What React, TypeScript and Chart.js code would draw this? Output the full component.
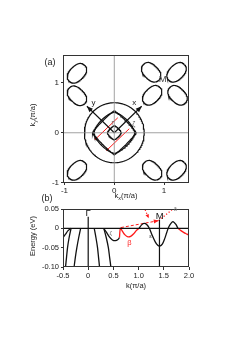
import React, { useEffect, useRef } from 'react';
import { Chart, registerables } from 'chart.js';
Chart.register(...registerables);

const FONT = '"Liberation Sans", Arial, sans-serif';

// ---------- Panel (a): Fermi surface ----------
const kxTicks = [-1, 0, 1];
const kyTicks = [-1, 0, 1];
// central contours: radius and superellipse exponent (2 = circle, ~1 = diamond)
const fsRadius = [0.6, 0.44, 0.41, 0.14];
const fsExponent = [2, 1.1, 1.45, 1.3];
// electron pockets around M
const pocketX = [-0.75, -0.75, -0.75, 0.74, 1.25, 0.76, 1.27, 0.76, 1.25];
const pocketY = [1.19, 0.74, -0.75, 1.21, 1.21, 0.75, 0.75, -0.75, -0.75];
const pocketAngle = [45, -45, 45, -45, 45, 45, -45, -45, 45];
const pocketMajor = 0.22;
const pocketMinor = 0.145;
// x / y axis arrows
const arrowEndX = [0.55, -0.55];
const arrowEndY = [0.53, 0.53];
// red nesting lines
const nestStartX = [-0.37, -0.14];
const nestStartY = [-0.12, -0.34];
const nestEndX = [0.07, 0.3];
const nestEndY = [0.3, 0.08];

// ---------- Panel (b): band structure ----------
const kTicks = [-0.5, 0, 0.5, 1.0, 1.5, 2.0];
const kTickLabels = ['-0.5', '0', '0.5', '1.0', '1.5', '2.0'];
const eTicks = [0.05, 0, -0.05, -0.1];
const eTickLabels = ['0.05', '0', '-0.05', '-0.10'];
const gammaK = 0;
const mK = 1.414;
const leftBandK = [-0.5, -0.45, -0.4, -0.34];
const leftBandE = [-0.024, -0.015, -0.006, 0];
const steepE = [0, -0.025, -0.05, -0.075, -0.1];
const innerLeftK = [-0.15, -0.19, -0.225, -0.255, -0.28];
const innerRightK = [0.12, 0.155, 0.185, 0.205, 0.225];
const outerLeftK = [-0.34, -0.38, -0.41, -0.43, -0.45];
const outerRightK = [0.31, 0.36, 0.4, 0.425, 0.45];
const zetaK = [0.31, 0.36, 0.42, 0.48, 0.54, 0.59, 0.62];
const zetaE = [0, -0.01, -0.022, -0.03, -0.032, -0.029, -0.024];
const betaK = [0.62, 0.64, 0.68, 0.73, 0.79, 0.85, 0.91, 0.96, 1.01];
const betaE = [-0.024, 0.0, -0.008, -0.017, -0.022, -0.02, -0.013, -0.005, 0.0];
const epsK = [1.01, 1.06, 1.11, 1.16, 1.21, 1.27, 1.33, 1.38, 1.42, 1.47, 1.52, 1.56, 1.6, 1.65, 1.69, 1.74, 1.78];
const epsE = [0, 0.009, 0.013, 0.01, 0.001, -0.018, -0.035, -0.044, -0.046, -0.041, -0.026, -0.01, 0.004, 0.014, 0.017, 0.01, 0];
const tailK = [1.78, 1.84, 1.9, 1.96, 2.0];
const tailE = [0, -0.006, -0.011, -0.015, -0.018];
const nest1K = [0.65, 1.4];
const nest1E = [0.002, 0.02];
const nest2K = [1.4, 1.67];
const nest2E = [0.02, 0.049];
const nest3K = [1.13, 1.2];
const nest3E = [0.048, 0.026];

const W = 249;
const H = 352;

const zip = (xs: number[], ys: number[]) => xs.map((x, i) => ({ x, y: ys[i] }));

function superellipse(cx: number, cy: number, a: number, b: number, n: number, angDeg: number) {
  const pts: { x: number; y: number }[] = [];
  const th = (angDeg * Math.PI) / 180;
  const N = 160;
  for (let i = 0; i <= N; i++) {
    const t = (i / N) * Math.PI * 2;
    const c = Math.cos(t);
    const s = Math.sin(t);
    const u = a * Math.sign(c) * Math.pow(Math.abs(c), 2 / n);
    const v = b * Math.sign(s) * Math.pow(Math.abs(s), 2 / n);
    pts.push({ x: cx + u * Math.cos(th) - v * Math.sin(th), y: cy + u * Math.sin(th) + v * Math.cos(th) });
  }
  return pts;
}

function line(data: any[], color: string, width: number, extra: any = {}) {
  return {
    data,
    showLine: true,
    borderColor: color,
    backgroundColor: color,
    borderWidth: width,
    pointRadius: 0,
    fill: false,
    tension: 0,
    ...extra,
  };
}

function arrowHead(ctx: CanvasRenderingContext2D, x0: number, y0: number, x1: number, y1: number, len: number, wid: number, color: string) {
  const a = Math.atan2(y1 - y0, x1 - x0);
  ctx.save();
  ctx.translate(x1, y1);
  ctx.rotate(a);
  ctx.beginPath();
  ctx.moveTo(0, 0);
  ctx.lineTo(-len, wid / 2);
  ctx.lineTo(-len, -wid / 2);
  ctx.closePath();
  ctx.fillStyle = color;
  ctx.fill();
  ctx.restore();
}

function frame(chart: any) {
  const { ctx, chartArea: c } = chart;
  ctx.save();
  ctx.strokeStyle = '#333';
  ctx.lineWidth = 1;
  ctx.strokeRect(Math.round(c.left) + 0.5, Math.round(c.top) + 0.5, Math.round(c.right - c.left) - 1, Math.round(c.bottom - c.top) - 1);
  ctx.restore();
}

function text(ctx: CanvasRenderingContext2D, s: string, x: number, y: number, size: number, color = '#111', align: CanvasTextAlign = 'center', style = '') {
  ctx.save();
  ctx.font = `${style} ${size}px ${FONT}`;
  ctx.fillStyle = color;
  ctx.textAlign = align;
  ctx.textBaseline = 'middle';
  ctx.fillText(s, x, y);
  ctx.restore();
}

// "k" + subscript + "(π/a)" centred at (x, y), optionally rotated
function kTitle(ctx: CanvasRenderingContext2D, sub: string, x: number, y: number, size: number, rot: number) {
  ctx.save();
  ctx.translate(x, y);
  ctx.rotate(rot);
  ctx.fillStyle = '#222';
  ctx.textBaseline = 'middle';
  ctx.textAlign = 'left';
  const big = `${size}px ${FONT}`;
  const small = `${size * 0.72}px ${FONT}`;
  ctx.font = big;
  const wk = ctx.measureText('k').width;
  const wr = ctx.measureText('(π/a)').width;
  ctx.font = small;
  const ws = sub ? ctx.measureText(sub).width : 0;
  let cx = -(wk + ws + wr) / 2;
  ctx.font = big;
  ctx.fillText('k', cx, 0);
  cx += wk;
  if (sub) {
    ctx.font = small;
    ctx.fillText(sub, cx, size * 0.3);
    cx += ws;
  }
  ctx.font = big;
  ctx.fillText('(π/a)', cx, 0);
  ctx.restore();
}

export default function App() {
  const refA = useRef<HTMLCanvasElement>(null);
  const refB = useRef<HTMLCanvasElement>(null);

  useEffect(() => {
    // ---------- Chart A ----------
    const dsA: any[] = [];
    dsA.push(line([{ x: -1.03, y: 0 }, { x: 1.5, y: 0 }], '#8a8a8a', 0.8));
    dsA.push(line([{ x: 0, y: -1.05 }, { x: 0, y: 1.6 }], '#8a8a8a', 0.8));
    fsRadius.forEach((r, i) => dsA.push(line(superellipse(0, 0, r, r, fsExponent[i], 0), '#111', 1.2)));
    pocketX.forEach((px, i) =>
      dsA.push(line(superellipse(px, pocketY[i], pocketMajor, pocketMinor, 2.4, pocketAngle[i]), '#111', 1.2))
    );
    arrowEndX.forEach((ex, i) => dsA.push(line([{ x: 0, y: 0 }, { x: ex, y: arrowEndY[i] }], '#111', 1.1)));
    nestStartX.forEach((sx, i) =>
      dsA.push(
        line([{ x: sx, y: nestStartY[i] }, { x: nestEndX[i], y: nestEndY[i] }], '#ff1a1a', 1, {
          pointRadius: [1.3, 0],
          pointBorderWidth: 0,
        })
      )
    );

    const pluginA = {
      id: 'decoA',
      afterDatasetsDraw(chart: any) {
        const { ctx, scales } = chart;
        const xs = scales.x;
        const ys = scales.y;
        const px = (v: number) => xs.getPixelForValue(v);
        const py = (v: number) => ys.getPixelForValue(v);
        frame(chart);
        arrowEndX.forEach((ex, i) => arrowHead(ctx, px(0), py(0), px(ex), py(arrowEndY[i]), 6, 5, '#111'));
        text(ctx, 'x', px(0.4), py(0.6), 8, '#222');
        text(ctx, 'y', px(-0.42), py(0.6), 8, '#222');
        text(ctx, 'ζ', px(0.39), py(0.18), 7, '#555');
        text(ctx, 'Γ', px(-0.03), py(0.18), 5, '#555');
        text(ctx, 'M', px(0.97), py(1.06), 9.5, '#444');
        text(ctx, '(a)', 50, 63, 9, '#222');
        kTitle(ctx, 'x', 126, 196, 7.5, 0);
        kTitle(ctx, 'y', 33, 115, 7.5, -Math.PI / 2);
      },
    };

    const chartA = new Chart(refA.current!, {
      type: 'scatter',
      data: { datasets: dsA },
      options: {
        responsive: false,
        animation: false,
        devicePixelRatio: 1,
        events: [],
        layout: { padding: { left: 63 - 18, right: W - 189, top: 55, bottom: H - 183 - 12 } },
        plugins: { legend: { display: false }, tooltip: { enabled: false } },
        scales: {
          x: {
            type: 'linear',
            min: -1.03,
            max: 1.5,
            afterBuildTicks: (s: any) => {
              s.ticks = kxTicks.map((v) => ({ value: v }));
            },
            afterFit: (s: any) => {
              s.height = 12;
            },
            ticks: { font: { family: FONT, size: 8 }, color: '#222', padding: 1, maxRotation: 0, autoSkip: false },
            grid: { drawOnChartArea: false, tickLength: 2, color: '#333' },
            border: { display: false },
          },
          y: {
            type: 'linear',
            min: -1.005,
            max: 1.555,
            afterBuildTicks: (s: any) => {
              s.ticks = kyTicks.map((v) => ({ value: v }));
            },
            afterFit: (s: any) => {
              s.width = 18;
            },
            ticks: { font: { family: FONT, size: 8 }, color: '#222', padding: 2, autoSkip: false },
            grid: { drawOnChartArea: false, tickLength: 2, color: '#333' },
            border: { display: false },
          },
        },
      },
      plugins: [pluginA],
    } as any);

    // ---------- Chart B ----------
    const black = '#111';
    const red = '#ff1a1a';
    const dsB: any[] = [];
    dsB.push(line([{ x: -0.5, y: 0 }, { x: 2.0, y: 0 }], black, 1.2));
    dsB.push(line([{ x: gammaK, y: 0.03 }, { x: gammaK, y: -0.1 }], black, 1.2));
    dsB.push(line([{ x: mK, y: 0.022 }, { x: mK, y: -0.1 }], black, 1.2));
    dsB.push(line(zip(leftBandK, leftBandE), black, 1.3, { tension: 0.3 }));
    dsB.push(line(zip(innerLeftK, steepE), black, 1.3, { tension: 0.3 }));
    dsB.push(line(zip(innerRightK, steepE), black, 1.3, { tension: 0.3 }));
    dsB.push(line(zip(outerLeftK, steepE), black, 1.3, { tension: 0.3 }));
    dsB.push(line(zip(outerRightK, steepE), black, 1.3, { tension: 0.3 }));
    dsB.push(line(zip(zetaK, zetaE), black, 1.3, { tension: 0.3 }));
    dsB.push(line(zip(betaK, betaE), red, 1.3, { tension: 0.3 }));
    dsB.push(line(zip(epsK, epsE), black, 1.3, { tension: 0.3 }));
    dsB.push(line(zip(tailK, tailE), red, 1.3, { tension: 0.3 }));
    dsB.push(line(zip(nest1K, nest1E), red, 1, { borderDash: [3, 2] }));
    dsB.push(line(zip(nest2K, nest2E), red, 1.2, { borderDash: [1.2, 2] }));
    dsB.push(line(zip(nest3K, nest3E), red, 1.2, { borderDash: [1.2, 2] }));

    const pluginB = {
      id: 'decoB',
      afterDatasetsDraw(chart: any) {
        const { ctx, scales } = chart;
        const px = (v: number) => scales.x.getPixelForValue(v);
        const py = (v: number) => scales.y.getPixelForValue(v);
        frame(chart);
        arrowHead(ctx, px(nest1K[0]), py(nest1E[0]), px(nest1K[1]), py(nest1E[1]), 5, 4, red);
        arrowHead(ctx, px(nest3K[0]), py(nest3E[0]), px(nest3K[1]), py(nest3E[1]), 4, 3.5, red);
        text(ctx, 'Γ', px(0), py(0.039), 9.5, '#111');
        text(ctx, 'M', px(1.42), py(0.031), 9.5, '#111');
        text(ctx, 'ζ', px(0.45), py(-0.012), 6, '#666');
        text(ctx, 'β', px(0.82), py(-0.037), 7.5, red);
        text(ctx, 'ε', px(1.24), py(-0.02), 6, '#444');
        text(ctx, 'δ', px(1.73), py(0.05), 6, '#666');
        text(ctx, '(b)', 47, 199, 9, '#222');
        ctx.save();
        ctx.translate(33, 236);
        ctx.rotate(-Math.PI / 2);
        text(ctx, 'Energy (eV)', 0, 0, 7.5, '#222');
        ctx.restore();
        kTitle(ctx, '', 136, 286, 7.5, 0);
      },
    };

    const chartB = new Chart(refB.current!, {
      type: 'scatter',
      data: { datasets: dsB },
      options: {
        responsive: false,
        animation: false,
        devicePixelRatio: 1,
        events: [],
        layout: { padding: { left: 63 - 26, right: W - 189, top: 209, bottom: H - 267 - 14 } },
        plugins: { legend: { display: false }, tooltip: { enabled: false } },
        scales: {
          x: {
            type: 'linear',
            min: -0.5,
            max: 2.0,
            afterBuildTicks: (s: any) => {
              s.ticks = kTicks.map((v) => ({ value: v }));
            },
            afterFit: (s: any) => {
              s.height = 14;
            },
            ticks: {
              font: { family: FONT, size: 7.5 },
              color: '#222',
              padding: 1,
              maxRotation: 0,
              autoSkip: false,
              callback: (_v: any, i: number) => kTickLabels[i],
            },
            grid: { drawOnChartArea: false, tickLength: 3, color: '#333' },
            border: { display: false },
          },
          y: {
            type: 'linear',
            min: -0.1,
            max: 0.05,
            afterBuildTicks: (s: any) => {
              s.ticks = eTicks.map((v) => ({ value: v }));
            },
            afterFit: (s: any) => {
              s.width = 26;
            },
            ticks: {
              font: { family: FONT, size: 7.5 },
              color: '#222',
              padding: 2,
              autoSkip: false,
              callback: (_v: any, i: number) => eTickLabels[i],
            },
            grid: { drawOnChartArea: false, tickLength: 2, color: '#333' },
            border: { display: false },
          },
        },
      },
      plugins: [pluginB],
    } as any);

    return () => {
      chartA.destroy();
      chartB.destroy();
    };
  }, []);

  const cs: React.CSSProperties = { position: 'absolute', left: 0, top: 0, width: W, height: H };
  return (
    <div style={{ position: 'fixed', left: 0, top: 0, width: W, height: H, background: '#fff' }}>
      <canvas ref={refA} width={W} height={H} style={cs} />
      <canvas ref={refB} width={W} height={H} style={cs} />
    </div>
  );
}
